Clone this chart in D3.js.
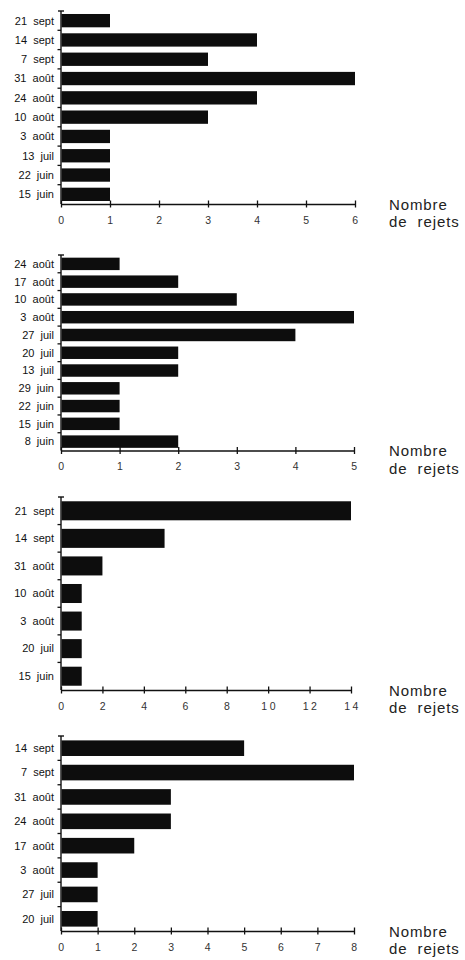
<!DOCTYPE html>
<html><head><meta charset="utf-8">
<script src="https://cdn.jsdelivr.net/npm/d3@7"></script>
<style>
html,body{margin:0;padding:0;background:#fff;}
svg{display:block;font-family:"Liberation Sans",Arial,Helvetica,sans-serif;}
</style></head>
<body>
<svg id="chart" width="465" height="960"></svg>
<script>
// ---- data ----
const cats1 = ["21  sept","14  sept","7  sept","31  août","24  août","10  août","3  août","13  juil","22  juin","15  juin"];
const vals1 = [1,4,3,6,4,3,1,1,1,1];
const ticks1 = [0,1,2,3,4,5,6];

const cats2 = ["24  août","17  août","10  août","3  août","27  juil","20  juil","13  juil","29  juin","22  juin","15  juin","8  juin"];
const vals2 = [1,2,3,5,4,2,2,1,1,1,2];
const ticks2 = [0,1,2,3,4,5];

const cats3 = ["21  sept","14  sept","31  août","10  août","3  août","20  juil","15  juin"];
const vals3 = [14,5,2,1,1,1,1];
const ticks3 = [0,2,4,6,8,10,12,14];

const cats4 = ["14  sept","7  sept","31  août","24  août","17  août","3  août","27  juil","20  juil"];
const vals4 = [5,8,3,3,2,1,1,1];
const ticks4 = [0,1,2,3,4,5,6,7,8];

const axisTitle1 = "Nombre";
const axisTitle2 = "de  rejets";

// ---- layout ----
const panels = [
  {cats:cats1, vals:vals1, ticks:ticks1, top:11,  bottom:204, x1:355, pad:0.31},
  {cats:cats2, vals:vals2, ticks:ticks2, top:255, bottom:450.5, x1:354, pad:0.3},
  {cats:cats3, vals:vals3, ticks:ticks3, top:497, bottom:690, x1:351, pad:0.31},
  {cats:cats4, vals:vals4, ticks:ticks4, top:736, bottom:931, x1:354, pad:0.36}
];
const x0 = 61;
const svg = d3.select("#chart");

panels.forEach(p => {
  const g = svg.append("g");
  const x = d3.scaleLinear().domain([0, d3.max(p.ticks)]).range([x0, p.x1]);
  const y = d3.scaleBand().domain(p.cats).range([p.top, p.bottom]).paddingInner(p.pad).paddingOuter(p.pad/2);
  const yb = d3.scaleBand().domain(p.cats).range([p.top, p.bottom]);

  // bars
  g.selectAll("rect.bar").data(p.cats).join("rect")
    .attr("x", x(0) + 0.5)
    .attr("y", d => y(d))
    .attr("width", (d,i) => x(p.vals[i]) - x(0) - 0.5)
    .attr("height", y.bandwidth())
    .attr("fill", "#0d0d0d");

  // y axis line
  g.append("line").attr("x1", x0).attr("x2", x0).attr("y1", p.top).attr("y2", p.bottom)
    .attr("stroke", "#111").attr("stroke-width", 1.4);
  // top tick (T)
  g.append("line").attr("x1", x0-3).attr("x2", x0+3).attr("y1", p.top).attr("y2", p.top)
    .attr("stroke", "#111").attr("stroke-width", 1.4);
  // boundary ticks
  g.selectAll("line.yt").data(p.cats.slice(1)).join("line")
    .attr("x1", x0-3.5).attr("x2", x0)
    .attr("y1", d => yb(d)).attr("y2", d => yb(d))
    .attr("stroke", "#111").attr("stroke-width", 1.3);

  // category labels
  g.selectAll("text.cat").data(p.cats).join("text")
    .attr("x", 54)
    .attr("y", d => yb(d) + yb.bandwidth()/2)
    .attr("dy", "0.35em")
    .attr("text-anchor", "end")
    .attr("font-size", 11)
    .attr("fill", "#111")
    .style("white-space", "pre")
    .text(d => d);

  // x axis
  const ax = g.append("g").attr("transform", `translate(0,${p.bottom})`)
    .call(d3.axisBottom(x).tickValues(p.ticks).tickSize(3.5).tickSizeOuter(0).tickPadding(9)
      .tickFormat(d3.format("d")));
  ax.select(".domain").attr("stroke", "#111").attr("stroke-width", 1.4);
  ax.selectAll(".tick line").attr("y1", -3.5).attr("stroke", "#111").attr("stroke-width", 1.3);
  ax.selectAll(".tick text").attr("font-size", 10.5).attr("fill", "#333")
    .attr("font-family", "Liberation Sans, Arial, sans-serif")
    .attr("letter-spacing", "2.5px").attr("dx", "1px");

  // axis title
  g.append("text").attr("x", 389).attr("y", p.bottom + 5.5).attr("font-size", 15).attr("fill", "#222")
    .attr("letter-spacing", "0.9px").text(axisTitle1);
  g.append("text").attr("x", 389).attr("y", p.bottom + 23).attr("font-size", 15).attr("fill", "#222")
    .attr("letter-spacing", "0.9px").style("white-space", "pre").text(axisTitle2);
});
</script>
</body></html>
